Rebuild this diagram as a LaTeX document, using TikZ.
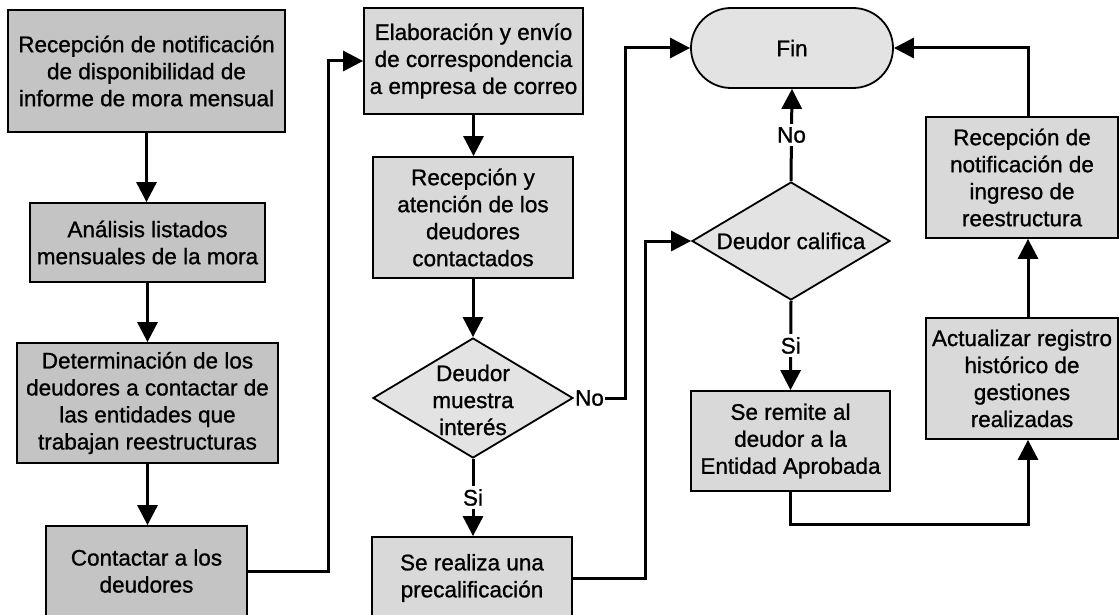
\documentclass[tikz,border=0pt]{standalone}
\usepackage{fontspec}
\setmainfont{Liberation Sans}[UprightFeatures={FakeBold=1.0}]
\usetikzlibrary{arrows.meta,shapes.geometric,calc}
\definecolor{fillA}{gray}{0.77}
\definecolor{fillB}{gray}{0.85}
\definecolor{fillC}{gray}{0.89}
\tikzset{
  base/.style={draw=black, line width=1.8pt, align=center, inner sep=0pt, font=\fontsize{22.5}{27}\selectfont},
  boxA/.style={base, rectangle, fill=fillA},
  boxB/.style={base, rectangle, fill=fillB},
  dia/.style={base, diamond, fill=fillC},
  term/.style={base, rectangle, rounded corners=40pt, fill=fillC},
  txt/.style={align=center, inner sep=0pt, font=\fontsize{22.5}{27}\selectfont},
  lbl/.style={fill=white, inner sep=3pt, font=\fontsize{22.5}{27}\selectfont},
  arr/.style={line width=3pt, -{Triangle[length=20pt,width=20pt]}},
  conn/.style={line width=3pt}
}
\begin{document}
\begin{tikzpicture}[x=1pt,y=-1pt]
\useasboundingbox (0,0) rectangle (1120,615);
% column 1
\node[boxA, minimum width=277, minimum height=122] (A) at (146.5,71) {Recepción de notificación\\de disponibilidad de\\informe de mora mensual};
\node[boxA, minimum width=235, minimum height=79] (B) at (147.5,242.5) {Análisis listados\\mensuales de la mora};
\node[boxA, minimum width=261, minimum height=120] (C) at (147.5,403) {Determinación de los\\deudores a contactar de\\las entidades que\\trabajan reestructuras};
\node[boxA, minimum width=201, minimum height=90] (D) at (146.5,571) {Contactar a los\\deudores};
% column 2
\node[boxB, minimum width=219, minimum height=106] (E) at (473.5,61) {Elaboración y envío\\de correspondencia\\a empresa de correo};
\node[boxB, minimum width=200, minimum height=121] (F) at (473,217.5) {Recepción y\\atención de los\\deudores\\contactados};
\node[dia, minimum width=200, minimum height=120] (G) at (473,398) {};
\node[txt] (Gt) at (473,400) {Deudor\\muestra\\interés};
\node[boxB, minimum width=200, minimum height=82] (H) at (472,578) {Se realiza una\\precalificación};
% column 3
\node[term, minimum width=202, minimum height=80] (Fin) at (792,48) {Fin};
\node[dia, minimum width=198, minimum height=118] (I) at (791,241) {};
\node[txt] (It) at (791,241) {Deudor califica};
\node[boxB, minimum width=199, minimum height=100] (L) at (790.5,441) {Se remite al\\deudor a la\\Entidad Aprobada};
% column 4
\node[boxB, minimum width=192, minimum height=121] (K) at (1022,177.5) {Recepción de\\notificación de\\ingreso de\\reestructura};
\node[boxB, minimum width=192, minimum height=121] (J) at (1022,378.5) {Actualizar registro\\histórico de\\gestiones\\realizadas};
% connectors
\draw[arr] (A.south) -- (A.south |- B.north);
\draw[arr] (B.south) -- (B.south |- C.north);
\draw[arr] (C.south) -- (C.south |- D.north);
\draw[arr] (D.east) -- ++(81,0) |- (E.west);
\draw[arr] (E.south) -- (E.south |- F.north);
\draw[arr] (F.south) -- (F.south |- G.north);
\node[lbl, anchor=west, inner sep=1pt] (noG) at (G.east) {No};
\draw[arr] (noG.east) -- ++(20,0) |- (Fin.west);
\draw[arr] (G.south) -- node[lbl] {Si} (G.south |- H.north);
\draw[arr] (H.east) -- ++(73,0) |- (I.west);
\draw[arr] (I.north) -- node[lbl] {No} (Fin.south);
\draw[arr] (I.south) -- node[lbl] {Si} (L.north);
\draw[arr] (L.south) -- ++(0,33) -| ([xshift=6pt]J.south);
\draw[arr] ([xshift=6pt]J.north) -- ([xshift=6pt]K.south);
\draw[arr] ([xshift=6pt]K.north) |- (Fin.east);
\end{tikzpicture}
\end{document}
